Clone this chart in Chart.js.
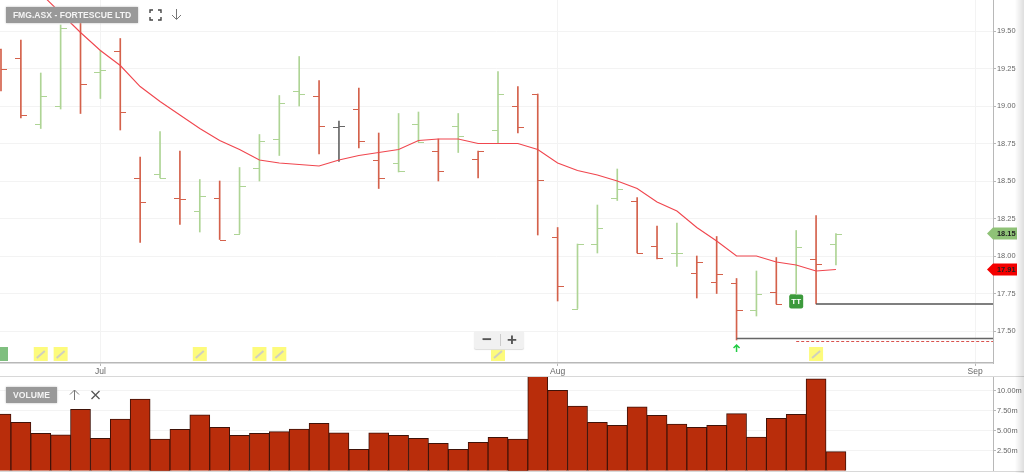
<!DOCTYPE html>
<html>
<head>
<meta charset="utf-8">
<title>FMG.ASX - FORTESCUE LTD</title>
<script src="https://cdn.jsdelivr.net/npm/chart.js@4"></script>
<style>
    html, body { margin: 0; padding: 0; background: #fff; overflow: hidden; }
    #wrap { position: relative; width: 1024px; height: 473px; font-family: "Liberation Sans", Arial, sans-serif; overflow: hidden; }
    canvas { position: absolute; left: 0; display: block; }
    #priceChart { top: 0; }
    #volumeChart { top: 376px; }
    .rule { position: absolute; left: 0; width: 1024px; height: 1px; background: #d8d8d8; }
    .badge { position: absolute; left: 6px; height: 16px; line-height: 16px; background: #999; color: #f4f4f4; font-size: 8.6px; font-weight: bold; text-align: center; box-shadow: 0 0 2px #bbb; }
    .icon { position: absolute; }
    #zoomBox { position: absolute; left: 474px; top: 331px; width: 50px; height: 18px; background: #f1f1f1; border-radius: 2px; box-shadow: 0 1px 1px #ddd; color: #555; font-weight: bold; font-size: 17px; line-height: 17px; }
    #zoomBox span { position: absolute; top: 0; width: 24px; text-align: center; }
    #edge { position: absolute; right: 0; top: 0; width: 9px; height: 473px; background: linear-gradient(to right, rgba(0,0,0,0), rgba(0,0,0,0.13)); }
</style>
</head>
<body>
<div id="wrap">
    <canvas id="priceChart" width="1024" height="376"></canvas>
    <canvas id="volumeChart" width="1024" height="96"></canvas>
    <div class="rule" style="top:376px"></div>
    <div class="rule" style="top:471px"></div>

    <div class="badge" style="top:7px;width:132px">FMG.ASX - FORTESCUE LTD</div>
    <svg class="icon" style="left:149px;top:9px" width="13" height="12" fill="none" stroke="#444" stroke-width="1.4">
        <path d="M1 4V1H4M9 1H12V4M12 8V11H9M4 11H1V8"/>
    </svg>
    <svg class="icon" style="left:171px;top:9px" width="11" height="12" fill="none" stroke="#777" stroke-width="1">
        <path d="M5.5 0V10M1 6L5.5 10.5L10 6"/>
    </svg>

    <div class="badge" style="top:387px;width:51px">VOLUME</div>
    <svg class="icon" style="left:69px;top:389px" width="11" height="12" fill="none" stroke="#777" stroke-width="1">
        <path d="M5.5 11V1M1 5.5L5.5 1L10 5.5"/>
    </svg>
    <svg class="icon" style="left:91px;top:390px" width="9" height="10" fill="none" stroke="#555" stroke-width="1.3">
        <path d="M0.5 1L8.5 9M8.5 1L0.5 9"/>
    </svg>

    <div id="zoomBox">
        <span style="left:1px">&#8722;</span>
        <span style="left:26px">+</span>
        <div style="position:absolute;left:26px;top:3px;width:1px;height:12px;background:#ccc"></div>
    </div>
    <div id="edge"></div>
</div>

<script>
    // Sessions shown on the chart
    const sessions = [
        '24 Jun', '25 Jun', '26 Jun', '27 Jun', '30 Jun', '1 Jul', '2 Jul', '3 Jul', '4 Jul',
        '7 Jul', '8 Jul', '9 Jul', '10 Jul', '11 Jul', '14 Jul', '15 Jul', '16 Jul', '17 Jul', '18 Jul',
        '21 Jul', '22 Jul', '23 Jul', '24 Jul', '25 Jul', '28 Jul', '29 Jul', '30 Jul', '31 Jul', '1 Aug',
        '4 Aug', '5 Aug', '6 Aug', '7 Aug', '8 Aug', '11 Aug', '12 Aug', '13 Aug', '14 Aug', '15 Aug',
        '18 Aug', '19 Aug', '20 Aug', '21 Aug'
    ];
    const opens = [
        19.38, 19.32, 18.88, 19.00, 19.57, 19.23, 19.37, 18.52, 18.55, 18.39, 18.30, 18.39, 18.15, 18.59,
        18.78, 19.10, 19.07, 18.86, 18.98, 18.64, 18.62, 18.88, 18.70, 18.87, 18.65, 18.84, 19.00, 19.08,
        18.13, 17.65, 18.08, 18.39, 18.37, 18.07, 18.02, 17.89, 17.83, 17.82, 17.64, 17.76, 17.75, 17.98, 18.08
    ];
    const highs = [
        19.38, 19.44, 19.22, 19.54, 19.65, 19.37, 19.45, 18.66, 18.83, 18.70, 18.51, 18.50, 18.59, 18.81,
        19.07, 19.33, 19.17, 18.90, 19.12, 18.82, 18.95, 18.96, 18.78, 18.95, 18.70, 19.23, 19.13, 19.08,
        18.19, 18.08, 18.34, 18.58, 18.39, 18.20, 18.22, 18.00, 18.13, 17.85, 17.90, 17.99, 18.17, 18.27, 18.15
    ];
    const lows = [
        19.10, 18.92, 18.85, 18.98, 18.95, 19.05, 18.84, 18.09, 18.52, 18.21, 18.16, 18.11, 18.15, 18.50,
        18.67, 19.00, 18.68, 18.63, 18.72, 18.45, 18.56, 18.76, 18.50, 18.69, 18.52, 18.75, 18.82, 18.14,
        17.70, 17.65, 18.02, 18.37, 18.02, 17.98, 17.93, 17.72, 17.75, 17.44, 17.60, 17.68, 17.75, 17.68, 17.94
    ];
    const closes = [
        19.25, 18.94, 19.07, 19.52, 19.15, 19.24, 18.96, 18.36, 18.52, 18.38, 18.40, 18.11, 18.47, 18.77,
        19.02, 19.08, 18.87, 18.87, 18.77, 18.52, 18.57, 18.76, 18.57, 18.80, 18.70, 19.08, 18.86, 18.51,
        17.80, 18.08, 18.19, 18.45, 18.02, 17.99, 18.02, 17.96, 17.88, 17.64, 17.75, 17.68, 18.06, 17.95, 18.15
    ];
    const average = [
        20.02, 19.89, 19.75, 19.62, 19.49, 19.37, 19.27, 19.13, 19.03, 18.94, 18.85, 18.77, 18.71, 18.64,
        18.62, 18.61, 18.60, 18.64, 18.67, 18.69, 18.71, 18.77, 18.78, 18.78, 18.75, 18.75, 18.75, 18.71,
        18.62, 18.57, 18.54, 18.50, 18.45, 18.36, 18.30, 18.19, 18.10, 18.00, 18.00, 17.96, 17.94, 17.90, 17.91
    ];
    // Volume in millions
    const volumes = [
        7.09, 6.05, 4.68, 4.50, 7.68, 4.05, 6.46, 8.96, 3.96, 5.18, 7.00, 5.43, 4.43, 4.68,
        4.88, 5.21, 5.93, 4.75, 2.68, 4.75, 4.43, 4.05, 3.43, 2.68, 3.55, 4.18, 3.96, 11.80,
        10.05, 8.09, 6.05, 5.68, 8.00, 6.93, 5.84, 5.43, 5.68, 7.13, 4.21, 6.55, 7.05, 11.50, 2.38
    ];
    const closeBeforeFirst = 19.40;

    const priceTicks = [17.5, 17.75, 18, 18.25, 18.5, 18.75, 19, 19.25, 19.5];
    const volumeTicks = [2.5, 5, 7.5, 10];
    const monthSessions = [5, 28, 49];
    const monthLabels = ['Jul', 'Aug', 'Sep'];

    // Marks placed on sessions
    const noteSessions = [2, 3, 10, 13, 14, 25, 41];
    const flagNoteSessions = [0];
    const arrowSession = 37;
    const tradeSession = 40;

    // Horizontal levels: start session and price
    const level1Start = 41, level1Price = 17.68;
    const level2Start = 37, level2Price = 17.45;
    const level3Start = 40, level3Price = 17.43;

    const xMin = -0.05;
    const xMax = 49.9;
    const font = { family: '"Liberation Sans", Arial, sans-serif', size: 7.4 };
    const axisColor = '#b8b8b8';
    const gridColor = '#f3f3f3';
    const labelColor = '#666';
    // Right axis keeps a fixed width and adds no space above or below the plot
    const fitValueAxis = scale => {
        scale.width = 31;
        scale.paddingTop = 0;
        scale.paddingBottom = 0;
    };
    const setTicks = values => scale => { scale.ticks = values.map(value => ({ value })); };

    function barColor(i) {
        const previous = i === 0 ? closeBeforeFirst : closes[i - 1];
        if (closes[i] > previous) return '#aed495';
        if (closes[i] < previous) return '#d4614b';
        return '#666';
    }

    // Open and close ticks either side of each stem
    const openCloseTicks = {
        id: 'openCloseTicks',
        afterDatasetsDraw(chart) {
            const { ctx, scales } = chart;
            ctx.save();
            sessions.forEach((_, i) => {
                const x = Math.round(scales.x.getPixelForValue(i));
                ctx.fillStyle = barColor(i);
                ctx.fillRect(x - 6, Math.round(scales.y.getPixelForValue(opens[i])), 6, 1);
                ctx.fillRect(x, Math.round(scales.y.getPixelForValue(closes[i])), 6, 1);
            });
            ctx.restore();
        }
    };

    function drawNote(ctx, x, y, color) {
        ctx.fillStyle = color;
        ctx.fillRect(x - 7, y - 7, 14, 14);
        ctx.strokeStyle = '#cfcfc0';
        ctx.lineWidth = 2;
        ctx.beginPath();
        ctx.moveTo(x - 4, y + 4);
        ctx.lineTo(x + 4, y - 3);
        ctx.stroke();
    }

    function drawFlag(ctx, y, color, text) {
        ctx.fillStyle = color;
        ctx.beginPath();
        ctx.moveTo(987, y);
        ctx.lineTo(993, y - 6);
        ctx.lineTo(1017, y - 6);
        ctx.lineTo(1017, y + 6);
        ctx.lineTo(993, y + 6);
        ctx.closePath();
        ctx.fill();
        ctx.fillStyle = '#222';
        ctx.font = 'bold 7.4px "Liberation Sans", Arial, sans-serif';
        ctx.textAlign = 'left';
        ctx.textBaseline = 'middle';
        ctx.fillText(text, 997, y + 0.5);
    }

    const chartMarks = {
        id: 'chartMarks',
        afterDraw(chart) {
            const { ctx, scales, chartArea } = chart;
            const noteY = chartArea.bottom - 9;
            ctx.save();
            ctx.beginPath();
            ctx.rect(0, 0, 1024, 376);
            ctx.clip();

            noteSessions.forEach(i => drawNote(ctx, scales.x.getPixelForValue(i), noteY, '#fdfb7c'));
            flagNoteSessions.forEach(i => {
                ctx.fillStyle = '#7fbf7f';
                ctx.fillRect(scales.x.getPixelForValue(i) - 7, noteY - 7, 14, 14);
            });

            // Buy arrow under the session low
            const arrowX = scales.x.getPixelForValue(arrowSession);
            const arrowY = scales.y.getPixelForValue(lows[arrowSession]) + 8;
            ctx.strokeStyle = '#22cc44';
            ctx.lineWidth = 1.5;
            ctx.beginPath();
            ctx.moveTo(arrowX, arrowY + 4);
            ctx.lineTo(arrowX, arrowY - 3);
            ctx.moveTo(arrowX - 3, arrowY);
            ctx.lineTo(arrowX, arrowY - 3);
            ctx.lineTo(arrowX + 3, arrowY);
            ctx.stroke();

            // TT marker under the session low
            const tradeX = scales.x.getPixelForValue(tradeSession);
            const tradeY = scales.y.getPixelForValue(lows[tradeSession]) + 8;
            ctx.fillStyle = '#3c9a3c';
            ctx.beginPath();
            ctx.roundRect(tradeX - 7, tradeY - 7, 14, 14, 2);
            ctx.fill();
            ctx.fillStyle = '#fff';
            ctx.font = 'bold 8px "Liberation Sans", Arial, sans-serif';
            ctx.textAlign = 'center';
            ctx.textBaseline = 'middle';
            ctx.fillText('TT', tradeX, tradeY);

            const lastClose = closes[closes.length - 1];
            const lastAverage = average[average.length - 1];
            drawFlag(ctx, scales.y.getPixelForValue(lastClose), '#8fc277', lastClose.toFixed(2));
            drawFlag(ctx, scales.y.getPixelForValue(lastAverage), '#f40000', lastAverage.toFixed(2));
            ctx.restore();
        }
    };

    const levelDataset = (start, price, color, extra) => ({
        type: 'line',
        data: [{ x: start, y: price }, { x: xMax, y: price }],
        borderColor: color,
        borderWidth: 1.3,
        pointRadius: 0,
        order: 1,
        ...extra
    });

    new Chart(document.getElementById('priceChart'), {
        type: 'bar',
        data: {
            labels: sessions,
            datasets: [
                {
                    data: sessions.map((_, i) => ({ x: i, y: [lows[i], highs[i]] })),
                    backgroundColor: sessions.map((_, i) => barColor(i)),
                    barThickness: 1,
                    borderWidth: 0,
                    order: 3
                },
                {
                    type: 'line',
                    data: sessions.map((_, i) => ({ x: i, y: average[i] })),
                    borderColor: '#f0464e',
                    borderWidth: 1.1,
                    pointRadius: 0,
                    tension: 0,
                    order: 2
                },
                levelDataset(level1Start, level1Price, '#555'),
                levelDataset(level2Start, level2Price, '#666'),
                levelDataset(level3Start, level3Price, '#d9534f', { borderDash: [3, 2], borderWidth: 1 })
            ]
        },
        options: {
            responsive: false,
            animation: false,
            devicePixelRatio: 1,
            layout: { padding: 0 },
            plugins: { legend: { display: false }, tooltip: { enabled: false } },
            scales: {
                x: {
                    type: 'linear',
                    min: xMin,
                    max: xMax,
                    offset: false,
                    afterBuildTicks: setTicks(monthSessions),
                    afterFit: scale => { scale.height = 13; },
                    grid: { color: gridColor, tickColor: axisColor, tickLength: 3, offset: false },
                    border: { color: axisColor, width: 1.5 },
                    ticks: {
                        callback: (value, index) => monthLabels[index],
                        autoSkip: false,
                        maxRotation: 0,
                        padding: 1,
                        color: labelColor,
                        font: { ...font, size: 8.5 }
                    }
                },
                y: {
                    position: 'right',
                    min: 17.2867,
                    max: 19.7067,
                    afterBuildTicks: setTicks(priceTicks),
                    afterFit: fitValueAxis,
                    grid: { color: gridColor, tickColor: axisColor, tickLength: 3 },
                    border: { color: axisColor, width: 1 },
                    ticks: {
                        callback: value => value.toFixed(2),
                        padding: 1,
                        color: labelColor,
                        font
                    }
                }
            }
        },
        plugins: [openCloseTicks, chartMarks]
    });

    new Chart(document.getElementById('volumeChart'), {
        type: 'bar',
        data: {
            labels: sessions,
            datasets: [
                {
                    data: sessions.map((_, i) => ({ x: i, y: volumes[i] })),
                    backgroundColor: '#b92d0b',
                    borderColor: '#3f1208',
                    borderWidth: 1,
                    borderSkipped: 'bottom',
                    barThickness: 20
                }
            ]
        },
        options: {
            responsive: false,
            animation: false,
            devicePixelRatio: 1,
            layout: { padding: { bottom: 1.3 } },
            plugins: { legend: { display: false }, tooltip: { enabled: false } },
            scales: {
                x: { type: 'linear', display: false, min: xMin, max: xMax, offset: false },
                y: {
                    position: 'right',
                    min: 0,
                    max: 11.84,
                    afterBuildTicks: setTicks(volumeTicks),
                    afterFit: fitValueAxis,
                    grid: { color: gridColor, tickColor: axisColor, tickLength: 3 },
                    border: { color: axisColor, width: 1 },
                    ticks: {
                        callback: value => value.toFixed(2) + 'm',
                        padding: 1,
                        color: labelColor,
                        font
                    }
                }
            }
        }
    });
</script>
</body>
</html>
